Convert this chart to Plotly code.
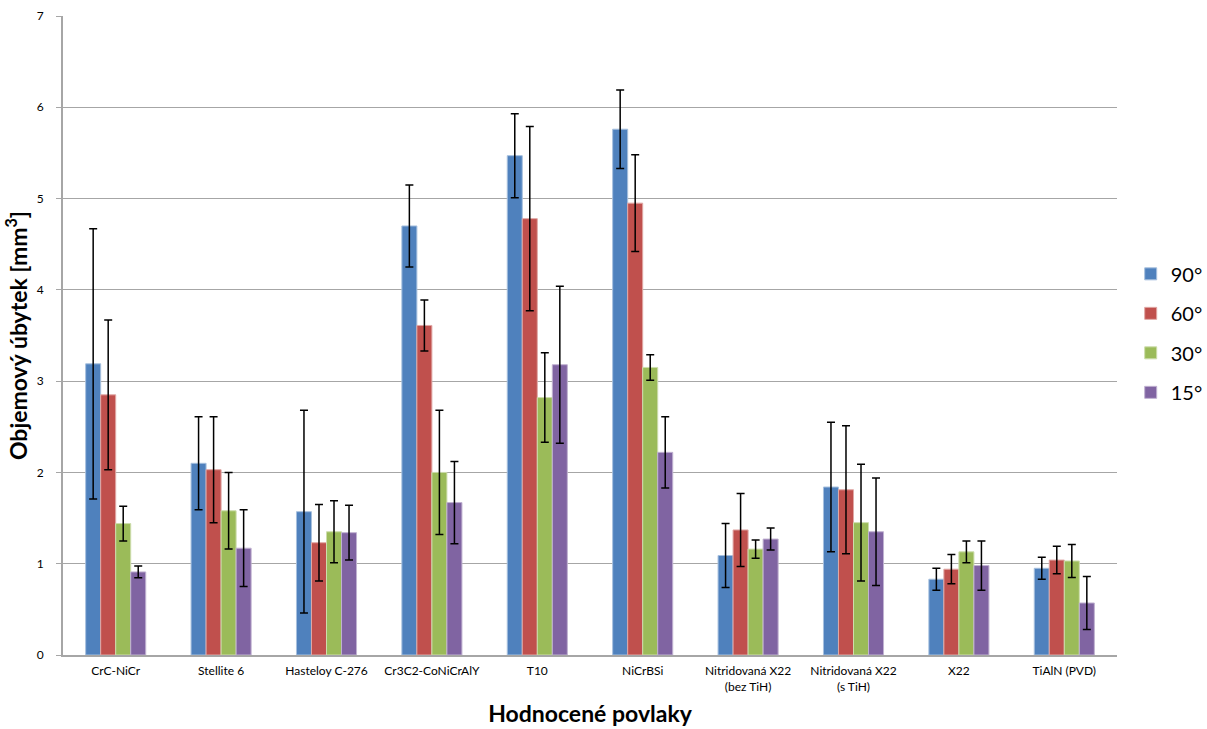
import plotly.graph_objects as go

# Coatings evaluated
categories = [
    "CrC-NiCr",
    "Stellite 6",
    "Hasteloy C-276",
    "Cr3C2-CoNiCrAlY",
    "T10",
    "NiCrBSi",
    "Nitridovaná X22<br>(bez TiH)",
    "Nitridovaná X22<br>(s TiH)",
    "X22",
    "TiAlN (PVD)",
]

# Volume loss [mm3] per impact angle
v90 = [3.19, 2.10, 1.57, 4.70, 5.47, 5.76, 1.09, 1.84, 0.83, 0.95]
v60 = [2.85, 2.03, 1.23, 3.61, 4.78, 4.95, 1.37, 1.81, 0.94, 1.04]
v30 = [1.44, 1.58, 1.35, 2.00, 2.82, 3.15, 1.16, 1.45, 1.13, 1.03]
v15 = [0.91, 1.17, 1.34, 1.67, 3.18, 2.22, 1.27, 1.35, 0.98, 0.57]

# Standard deviations
e90 = [1.48, 0.51, 1.11, 0.45, 0.46, 0.43, 0.35, 0.71, 0.12, 0.12]
e60 = [0.82, 0.58, 0.42, 0.28, 1.01, 0.53, 0.40, 0.70, 0.16, 0.15]
e30 = [0.19, 0.42, 0.34, 0.68, 0.49, 0.14, 0.10, 0.64, 0.12, 0.18]
e15 = [0.065, 0.42, 0.30, 0.45, 0.86, 0.39, 0.12, 0.59, 0.27, 0.29]

series = [
    ("90°", v90, e90, "#4F81BD", "#A7C0DE"),
    ("60°", v60, e60, "#C0504D", "#E0A8A6"),
    ("30°", v30, e30, "#9BBB59", "#CDDDAC"),
    ("15°", v15, e15, "#8064A2", "#C0B2D1"),
]

font_family = "Lato, 'Open Sans', sans-serif"

fig = go.Figure()
for name, vals, errs, color, edge in series:
    fig.add_trace(go.Bar(
        name=name,
        legendgroup=name,
        x=categories,
        y=vals,
        marker=dict(color=color, line=dict(color=edge, width=1)),
        error_y=dict(type="data", array=errs, visible=True,
                     color="black", thickness=1.5, width=4),
    ))

fig.update_layout(
    width=1207,
    height=729,
    barmode="group",
    bargap=0.43,
    bargroupgap=0,
    plot_bgcolor="white",
    paper_bgcolor="white",
    margin=dict(l=63, r=90, t=16, b=74, autoexpand=False),
    font=dict(family=font_family, color="black"),
    legend=dict(
        x=1.013, y=0.627, xanchor="left", yanchor="top",
        font=dict(size=20, family=font_family),
        itemwidth=30, traceorder="grouped", tracegroupgap=10.5,
        bgcolor="rgba(0,0,0,0)",
    ),
    xaxis=dict(
        showline=True, linecolor="#A6A6A6", linewidth=2,
        ticks="", tickfont=dict(size=12),
        ticklabelstandoff=4,
        title=dict(text="<b>Hodnocené povlaky</b>", font=dict(size=23), standoff=13),
    ),
    yaxis=dict(
        range=[0, 7], dtick=1,
        showgrid=True, gridcolor="#A6A6A6", gridwidth=1,
        showline=True, linecolor="#A6A6A6", linewidth=2,
        ticks="outside", ticklen=5, tickcolor="#A6A6A6",
        ticklabelstandoff=10,
        tickfont=dict(size=12),
        zeroline=False,
        title=dict(text="<b>Objemový úbytek [mm<sup>3</sup>]</b>", font=dict(size=23), standoff=3),
    ),
)

fig.write_html("out.html")
